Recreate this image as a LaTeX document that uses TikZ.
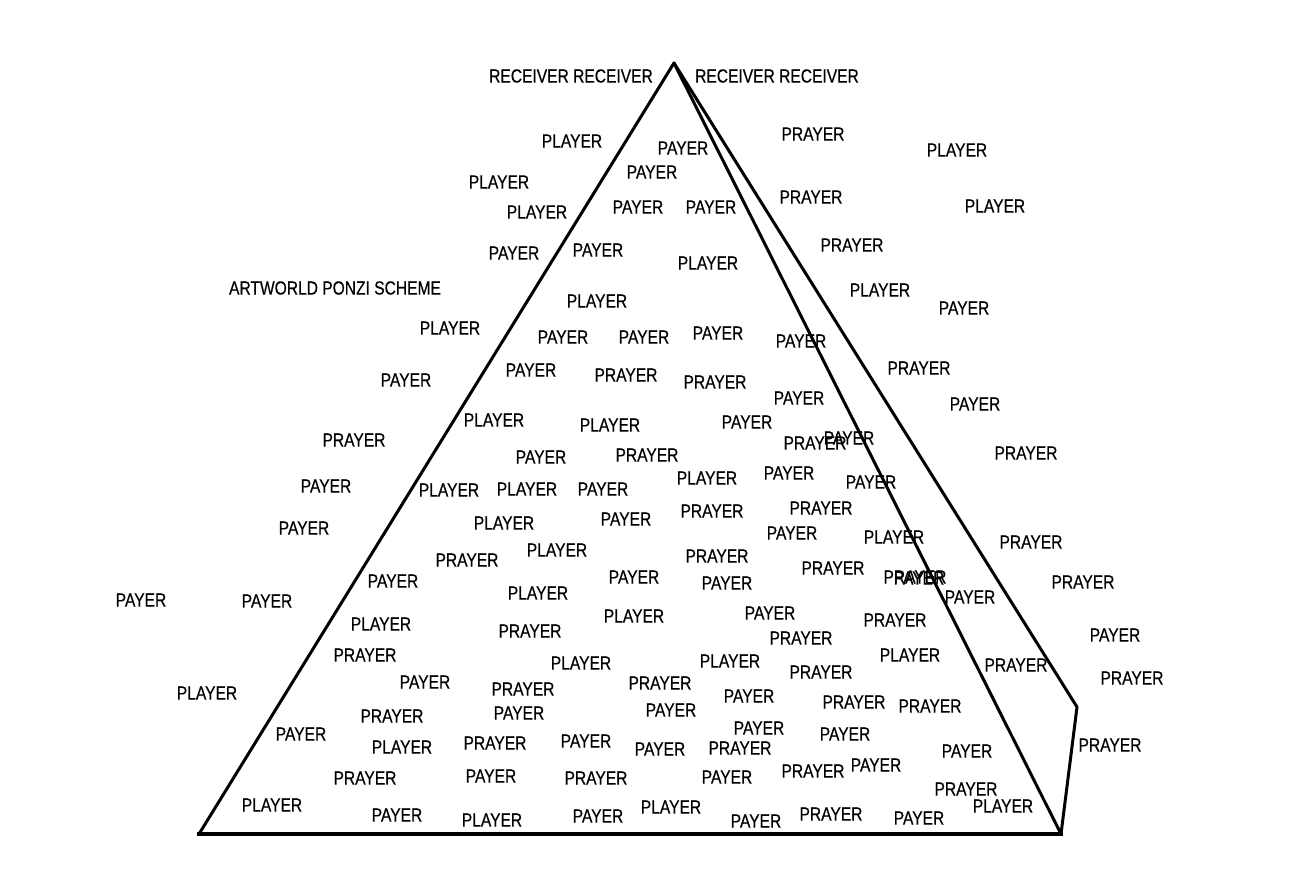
\documentclass[tikz,border=0pt]{standalone}
\usepackage{fontspec}
\setmainfont{Liberation Sans}[FakeStretch=0.82,FakeBold=0.4]
\tikzset{
  lbl/.style={inner sep=0pt, anchor=center, font=\fontsize{19}{21}\selectfont},
  edge/.style={line width=3pt, line join=round, line cap=round},
  base/.style={line width=4.5pt, line cap=butt}
}
\begin{document}
\begin{tikzpicture}[x=1pt,y=-1pt]
\useasboundingbox (0,0) rectangle (1290,881);
\fill[white] (0,0) rectangle (1290,881);
% pyramid corners
\coordinate (apex) at (674,63);
\coordinate (bl) at (199,834);
\coordinate (br) at (1061,834);
\coordinate (kn) at (1077,707);
\draw[edge] (bl) -- (apex) -- (br);
\draw[edge] (apex) -- (kn) -- (br);
\draw[base] (197,834) -- (1063,834);
% labels
\foreach \x/\y/\t [count=\i] in {
571/76/RECEIVER RECEIVER, 777/76/RECEIVER RECEIVER,
572/141/PLAYER, 683/148/PAYER, 813/134/PRAYER, 957/150/PLAYER,
652/172/PAYER, 499/182/PLAYER, 537/212/PLAYER, 638/207/PAYER,
711/207/PAYER, 811/197/PRAYER, 995/206/PLAYER, 514/253/PAYER,
598/250/PAYER, 708/263/PLAYER, 852/245/PRAYER, 335/288/ARTWORLD PONZI SCHEME,
880/290/PLAYER, 964/308/PAYER, 597/301/PLAYER, 450/328/PLAYER,
563/337/PAYER, 644/337/PAYER, 718/333/PAYER, 801/341/PAYER,
919/368/PRAYER, 406/380/PAYER, 531/370/PAYER, 626/375/PRAYER,
715/382/PRAYER, 799/398/PAYER, 975/404/PAYER, 494/420/PLAYER,
610/425/PLAYER, 747/422/PAYER, 815/443/PRAYER, 849/438/PAYER,
354/440/PRAYER, 541/457/PAYER, 647/455/PRAYER, 1026/453/PRAYER,
326/486/PAYER, 449/490/PLAYER, 527/489/PLAYER, 603/489/PAYER,
707/478/PLAYER, 789/473/PAYER, 871/482/PAYER, 304/528/PAYER,
504/523/PLAYER, 626/519/PAYER, 712/511/PRAYER, 821/508/PRAYER,
792/533/PAYER, 894/537/PLAYER, 1031/542/PRAYER, 467/560/PRAYER,
557/550/PLAYER, 717/556/PRAYER, 833/568/PRAYER, 393/581/PAYER,
634/577/PAYER, 727/583/PAYER, 915/577/PRAYER, 919/578/PAYER,
970/597/PAYER, 1083/582/PRAYER, 141/600/PAYER, 267/601/PAYER,
538/593/PLAYER, 634/616/PLAYER, 770/613/PAYER, 895/620/PRAYER,
381/624/PLAYER, 530/631/PRAYER, 801/638/PRAYER, 1115/635/PAYER,
365/655/PRAYER, 910/655/PLAYER, 1016/665/PRAYER, 581/663/PLAYER,
730/661/PLAYER, 821/672/PRAYER, 425/682/PAYER, 660/683/PRAYER,
1132/678/PRAYER, 207/693/PLAYER, 523/689/PRAYER, 749/696/PAYER,
854/702/PRAYER, 930/706/PRAYER, 392/716/PRAYER, 519/713/PAYER,
671/710/PAYER, 759/728/PAYER, 845/734/PAYER, 301/734/PAYER,
1110/745/PRAYER, 402/747/PLAYER, 495/743/PRAYER, 586/741/PAYER,
660/749/PAYER, 740/748/PRAYER, 967/751/PAYER, 813/771/PRAYER,
876/765/PAYER, 365/778/PRAYER, 491/776/PAYER, 596/778/PRAYER,
727/777/PAYER, 966/789/PRAYER, 1003/806/PLAYER, 272/805/PLAYER,
397/815/PAYER, 492/820/PLAYER, 598/816/PAYER, 671/807/PLAYER,
756/821/PAYER, 831/814/PRAYER, 919/818/PAYER}
  \node[lbl] (w\i) at (\x,\y) {\t};
\end{tikzpicture}
\end{document}
